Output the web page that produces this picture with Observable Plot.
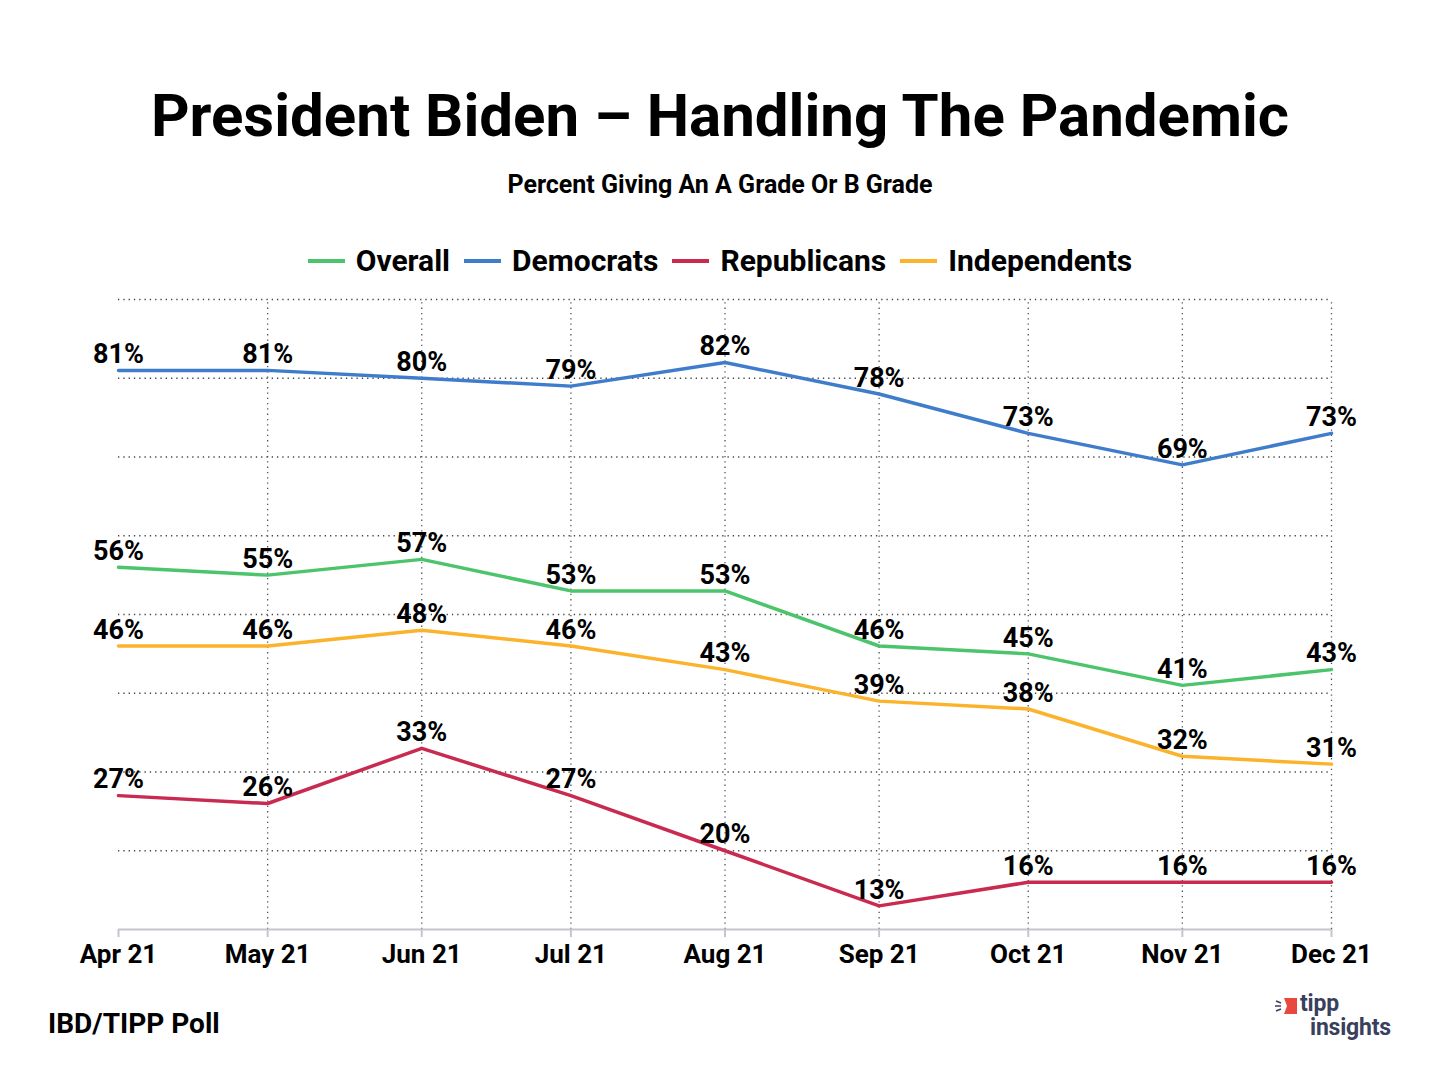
<!DOCTYPE html>
<html><head><meta charset="utf-8">
<script src="https://cdn.jsdelivr.net/npm/d3@7"></script>
<script src="https://cdn.jsdelivr.net/npm/@observablehq/plot@0.6"></script>
<style>
body{margin:0;background:#fff;font-family:Roboto,"Noto Sans",sans-serif;color:#000;}
#wrap{position:relative;width:1440px;height:1080px;overflow:hidden;background:#fff}
#title{position:absolute;top:80px;left:0;width:1440px;text-align:center;font-weight:700;font-size:60px;line-height:72px;}
#subtitle{position:absolute;top:169px;left:0;width:1440px;text-align:center;font-weight:700;font-size:25px;line-height:32px;}
#legend{position:absolute;top:242px;left:0;width:1440px;display:flex;justify-content:center;gap:14px;font-weight:700;font-size:30px;line-height:38px;}
#legend .item{display:flex;align-items:center;gap:11px}
#legend .sw{width:37px;height:4px;display:inline-block}
#chart{position:absolute;top:280px;left:0}
#footer{position:absolute;left:48px;top:1006px;font-weight:700;font-size:28px;line-height:36px;}
#logo{position:absolute;left:1274px;top:992px;width:140px;height:50px}
#logo .t{position:absolute;font-weight:700;color:#3a3f5c;font-size:23px;line-height:23px;letter-spacing:-0.2px;white-space:nowrap}
</style>
</head><body>
<div id="wrap">
  <div id="title">President Biden – Handling The Pandemic</div>
  <div id="subtitle">Percent Giving An A Grade Or B Grade</div>
  <div id="legend"></div>
  <div id="chart"></div>
  <div id="footer">IBD/TIPP Poll</div>
  <div id="logo">
    <svg width="30" height="24" style="position:absolute;left:0;top:3px">
      <path d="M2 6 L7 8 M1 11 L7 11 M2 16 L7 14" stroke="#3a3f5c" stroke-width="1.5"/>
      <path d="M10 3 L23 3 L23 19 L10 19 L13 11 Z" fill="#e8493f"/>
    </svg>
    <div class="t" style="left:26px;top:0px">tipp</div>
    <div class="t" style="left:36px;top:24px">insights</div>
  </div>
</div>
<script>
const monthLabels = ["Apr 21","May 21","Jun 21","Jul 21","Aug 21","Sep 21","Oct 21","Nov 21","Dec 21"];
const monthDates = ["2021-04-01","2021-05-01","2021-06-01","2021-07-01","2021-08-01","2021-09-01","2021-10-01","2021-11-01","2021-12-01"].map(s => new Date(s + "T00:00:00Z"));
const seriesNames = ["Overall","Democrats","Republicans","Independents"];
const seriesColors = ["#4cc46b","#3f7dcc","#c92a4f","#fbb32c"];
const overall = [56,55,57,53,53,46,45,41,43];
const democrats = [81,81,80,79,82,78,73,69,73];
const republicans = [27,26,33,27,20,13,16,16,16];
const independents = [46,46,48,46,43,39,38,32,31];
const gridValues = [20,30,40,50,60,70,80,90];

const seriesValues = [overall, democrats, republicans, independents];
const rows = seriesNames.flatMap((name, s) => seriesValues[s].map((v, i) => ({series: name, date: monthDates[i], value: v})));
const labelOf = new Map(monthDates.map((d, i) => [+d, monthLabels[i]]));

const legend = document.getElementById("legend");
seriesNames.forEach((n, i) => {
  const it = document.createElement("div"); it.className = "item";
  const sw = document.createElement("span"); sw.className = "sw"; sw.style.background = seriesColors[i];
  const tx = document.createElement("span"); tx.textContent = n;
  it.append(sw, tx); legend.append(it);
});

const chart = Plot.plot({
  width: 1440, height: 700,
  marginLeft: 118, marginRight: 109, marginTop: 19, marginBottom: 51,
  style: {fontFamily: "Roboto, 'Noto Sans', sans-serif", color: "#000", background: "transparent"},
  x: {type: "utc", domain: [monthDates[0], monthDates[8]]},
  y: {domain: [10, 90], axis: null},
  color: {domain: seriesNames, range: seriesColors},
  marks: [
    Plot.ruleY(gridValues, {stroke: "#444", strokeWidth: 1.3, strokeDasharray: "1.3,4"}),
    Plot.ruleX(monthDates.slice(1), {y1: 10, y2: 90, stroke: "#555", strokeWidth: 1.3, strokeDasharray: "1.3,4"}),
    Plot.ruleY([10], {stroke: "#c5c5cd", strokeWidth: 2}),
    Plot.axisX({ticks: monthDates, tickFormat: d => labelOf.get(+d), tickSize: 8, tickPadding: 7, stroke: "#c5c5cd", strokeWidth: 2, fill: "#000", fontSize: 26, fontWeight: 700}),
    Plot.line(rows, {x: "date", y: "value", z: "series", stroke: "series", strokeWidth: 3.5}),
    Plot.text(rows, {x: "date", y: "value", text: d => d.value + "%", dy: -16, fontSize: 27, fontWeight: 700, fill: "#000"})
  ]
});
document.getElementById("chart").append(chart);
</script>
</body></html>
